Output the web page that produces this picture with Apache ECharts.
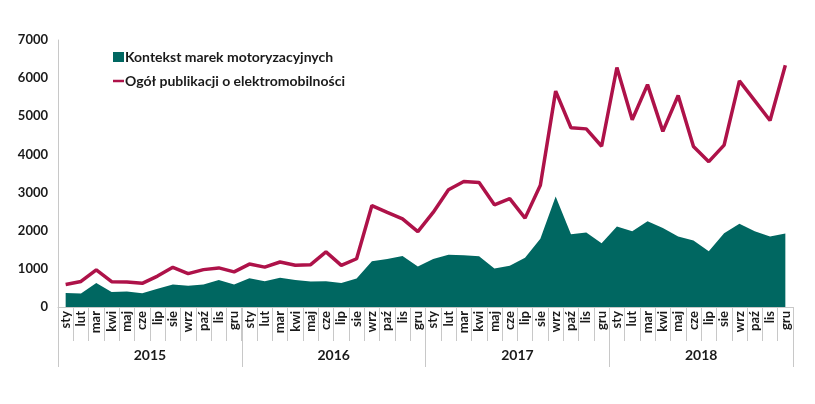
<!DOCTYPE html>
<html lang="pl">

<head>
  <meta charset="UTF-8" />
  <title>Elektromobilność</title>
  <script src="https://cdn.jsdelivr.net/npm/echarts@6/dist/echarts.min.js"></script>
</head>

<body style="margin: 0; overflow: hidden; background: #fff;">
  <div id="panel" style="width: 815px; height: 404px;"></div>
  <script>
    var years = ['2015', '2016', '2017', '2018'];
    var months = ['sty', 'lut', 'mar', 'kwi', 'maj', 'cze', 'lip', 'sie', 'wrz', 'paź', 'lis', 'gru'];

    // Kontekst marek motoryzacyjnych
    var brandValues = [
      370, 355, 630, 395, 405, 360, 480, 590, 555, 590, 710, 590,
      755, 675, 765, 710, 670, 675, 630, 750, 1200, 1260, 1335, 1060,
      1260, 1370, 1360, 1330, 1010, 1080, 1290, 1790, 2900, 1910, 1950, 1670,
      2110, 1985, 2250, 2070, 1850, 1745, 1460, 1935, 2185, 1985, 1850, 1930
    ];
    // Ogół publikacji o elektromobilności
    var totalValues = [
      590, 670, 975, 665, 655, 620, 810, 1040, 875, 980, 1025, 920,
      1125, 1045, 1180, 1095, 1110, 1445, 1090, 1265, 2660, 2480, 2310, 1975,
      2480, 3075, 3290, 3265, 2680, 2840, 2330, 3190, 5660, 4700, 4670, 4215,
      6280, 4910, 5830, 4605, 5545, 4210, 3810, 4245, 5930, 5410, 4890, 6340
    ];

    var categories = [];
    years.forEach(function () {
      months.forEach(function (m) { categories.push(m); });
    });

    var font = 'Lato, "Open Sans", sans-serif';
    var myChart = echarts.init(document.getElementById('panel'));

    var option = {
      animation: false,
      textStyle: { fontFamily: font },
      grid: { left: 58, right: 22, top: 40, bottom: 97 },
      legend: {
        orient: 'vertical',
        left: 108,
        top: 45,
        itemGap: 10,
        itemWidth: 11,
        itemHeight: 10,
        textStyle: { fontFamily: font, fontWeight: 'bold', fontSize: 14, color: '#1a1a1a', padding: [0, 0, 0, -4] },
        data: [
          { name: 'Kontekst marek motoryzacyjnych', icon: 'rect' },
          { name: 'Ogół publikacji o elektromobilności', icon: 'path://M0,4 L11,4 L11,6.5 L0,6.5 Z' }
        ]
      },
      xAxis: [
        {
          type: 'category',
          data: categories,
          boundaryGap: true,
          axisLine: { lineStyle: { color: '#c8c8c8' } },
          axisTick: { show: true, interval: 0, length: 34, lineStyle: { color: '#c8c8c8', width: 1 } },
          axisLabel: {
            interval: 0, rotate: 90, margin: 4,
            fontFamily: font, fontWeight: 'bold', fontSize: 13, color: '#1a1a1a'
          }
        },
        {
          type: 'category',
          data: years,
          position: 'bottom',
          boundaryGap: true,
          axisLine: { show: false },
          axisTick: { show: true, interval: 0, length: 60, lineStyle: { color: '#c8c8c8', width: 1 } },
          axisLabel: {
            interval: 0, margin: 41,
            fontFamily: font, fontWeight: 'bold', fontSize: 14, color: '#1a1a1a'
          }
        }
      ],
      yAxis: {
        type: 'value',
        min: 0,
        max: 7000,
        interval: 1000,
        axisLine: { show: true, lineStyle: { color: '#c8c8c8' } },
        axisTick: { show: false },
        splitLine: { show: false },
        axisLabel: {
          margin: 10, fontFamily: font, fontWeight: 'bold', fontSize: 13, color: '#1a1a1a',
          formatter: function (v) { return String(v); }
        }
      },
      series: [
        {
          name: 'Kontekst marek motoryzacyjnych',
          type: 'line',
          data: brandValues,
          symbol: 'none',
          color: '#006761',
          lineStyle: { width: 0 },
          areaStyle: { color: '#006761', opacity: 1 }
        },
        {
          name: 'Ogół publikacji o elektromobilności',
          type: 'line',
          data: totalValues,
          symbol: 'none',
          color: '#AE1249',
          lineStyle: { width: 3.5, color: '#AE1249' }
        }
      ]
    };

    myChart.setOption(option);
  </script>
</body>

</html>
